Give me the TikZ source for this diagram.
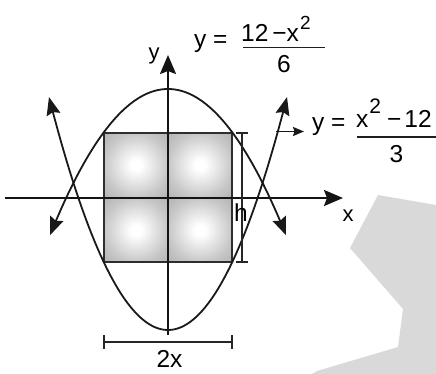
\documentclass[tikz,border=0pt]{standalone}
\usepackage{fontspec}
\setmainfont{Liberation Sans}
\usetikzlibrary{arrows.meta}
\pgfdeclareradialshading{quadshade}{\pgfpoint{0bp}{0bp}}{color(0bp)=(white); color(4bp)=(white); color(25bp)=(black!22); color(50bp)=(black!40); color(71bp)=(black!52)}
\begin{document}
\begin{tikzpicture}[x=1pt,y=-1pt,
  lbl/.style={inner sep=0pt, font=\fontsize{24.5}{29}\selectfont},
  axlbl/.style={inner sep=0pt, font=\fontsize{22}{26}\selectfont},
  ax/.style={line width=2pt, draw=black!92},
  bigtip/.style={-{Stealth[length=19pt,width=16pt,inset=3pt]}},
  crv/.style={line width=1.8pt, draw=black!90},
  ctip/.style={{Stealth[length=18pt,width=14pt,inset=2.5pt]}-{Stealth[length=18pt,width=14pt,inset=2.5pt]}},
  smalltip/.style={-{Stealth[length=11pt,width=9pt,inset=1.5pt]}},
  dim/.style={line width=1.4pt, draw=black!85},
  fracbar/.style={line width=1.3pt, draw=black!88}]
\useasboundingbox (0,0) rectangle (436,374);
% watermark shape
\fill[black!15] (378,195) -- (436,205) -- (436,374) -- (312,374) -- (317,371) -- (398,347) -- (403,309) -- (350,248) -- cycle;
% shaded square
\foreach \a/\b in {104/133,168/133,104/198,168/198}
  \shade[shading=quadshade] (\a,\b) rectangle ++(64,64);
\draw[line width=1.8pt, draw=black!82] (104,133) rectangle (232,262);
% axes
\coordinate (xs) at (5,198);
\coordinate (xe) at (343,198);
\coordinate (ys) at (168,335);
\coordinate (ye) at (168,55);
\draw[ax,bigtip] (xs) -- (xe);
\draw[ax,bigtip] (ys) -- (ye);
\node[axlbl,anchor=base] (xl) at (348,222) {x};
\node[axlbl,anchor=base] (yl) at (154,60) {y};
% parabolas
\draw[crv,ctip] plot[domain=-118:118, samples=80] ({168+\x},{89+0.0105*\x*\x});
\draw[crv,ctip] plot[domain=-119:119, samples=80] ({168+\x},{330-0.01645*\x*\x});
% pointer to right equation
\coordinate (ps) at (276,131.5);
\coordinate (pe) at (304,131.5);
\draw[line width=1.6pt, draw=black!90, smalltip] (ps) -- (pe);
% h dimension
\coordinate (ht) at (242,133);
\coordinate (hb) at (242,262);
\draw[dim] (ht) -- (hb);
\draw[dim] (236,133) -- (248,133);
\draw[dim] (236,262) -- (248,262);
\node[lbl,anchor=base] (h) at (241,222) {h};
% 2x dimension
\coordinate (wl) at (104,342);
\coordinate (wr) at (232,342);
\draw[dim] (wl) -- (wr);
\draw[dim] (104,335) -- (104,349);
\draw[dim] (232,335) -- (232,349);
\node[lbl,anchor=base] (w) at (169.5,367) {2x};
% top equation
\node[lbl,anchor=base west] (e1y) at (194,48) {y =};
\node[lbl,anchor=base west] (e1n) at (241,42) {12\kern4pt−\kern0pt x\kern1pt\raisebox{12pt}{\fontsize{19}{19}\selectfont 2}};
\draw[fracbar] (243,47.7) -- (325,47.7);
\node[lbl,anchor=base] (e1d) at (284,73) {6};
% right equation
\node[lbl,anchor=base west] (e2y) at (312,131) {y =};
\node[lbl,anchor=base west] (e2n) at (356,128) {x\kern1pt\raisebox{14pt}{\fontsize{21}{21}\selectfont 2}\kern6pt−\kern3pt12};
\draw[fracbar] (357,137) -- (436,137);
\node[lbl,anchor=base] (e2d) at (396.5,163) {3};
\end{tikzpicture}
\end{document}
